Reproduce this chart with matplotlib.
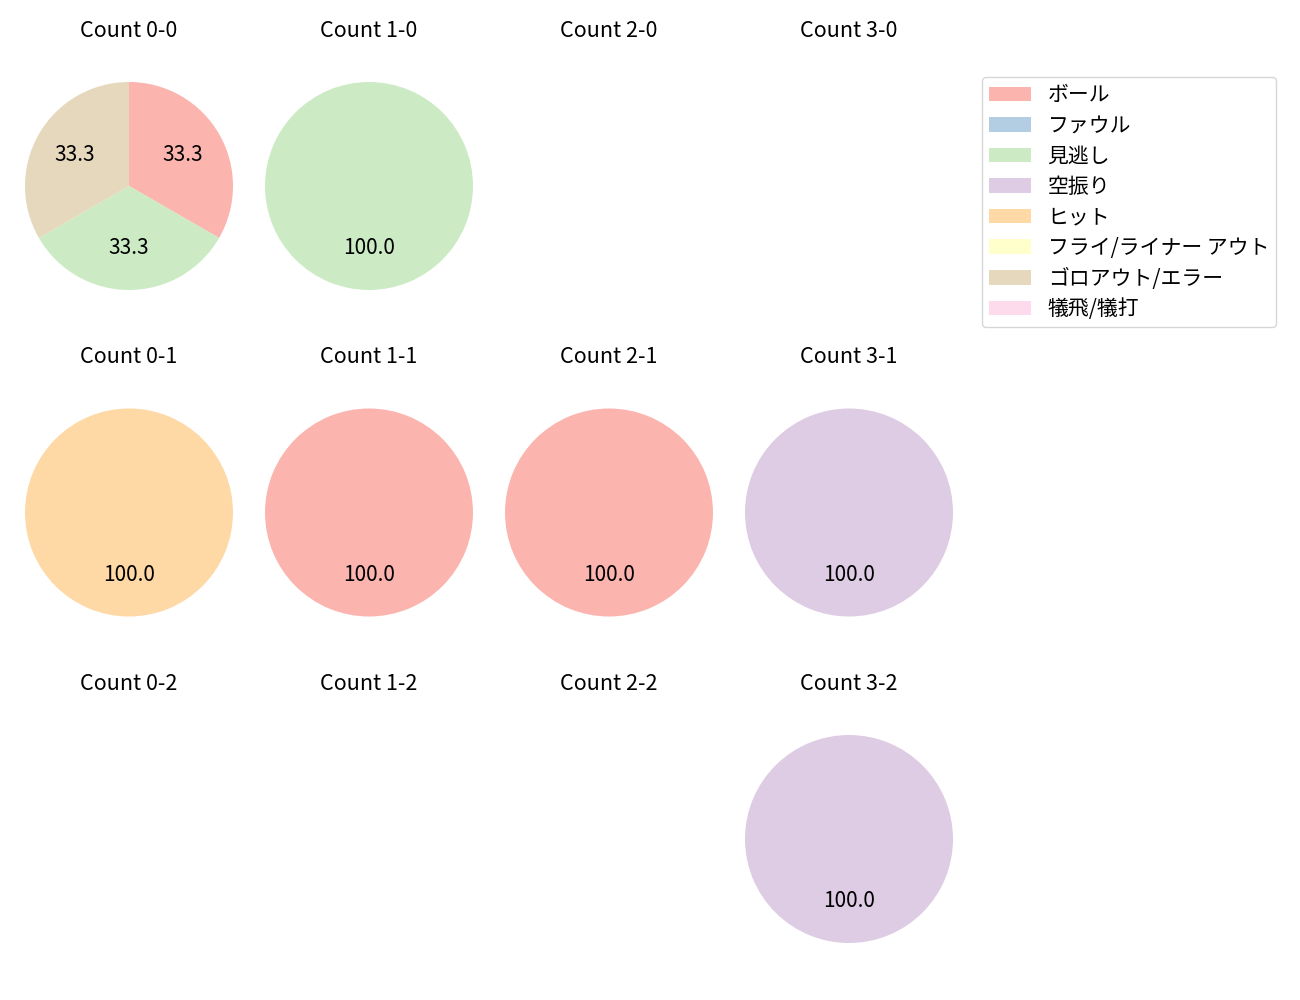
import numpy as np
import matplotlib
matplotlib.use("Agg")
import matplotlib.pyplot as plt
from matplotlib.patches import Patch

plt.rcParams['font.family'] = ['Noto Sans CJK JP', 'DejaVu Sans']
plt.rcParams['font.size'] = 15

#------------------------------------------#
# Data
categories = ['ボール', 'ファウル', '見逃し', '空振り', 'ヒット',
              'フライ/ライナー アウト', 'ゴロアウト/エラー', '犠飛/犠打']
colors = ['#fbb4ae', '#b3cde3', '#ccebc5', '#decbe4', '#fed9a6',
          '#ffffcc', '#e5d8bd', '#fddaec']

balls = [0, 1, 2, 3]
strikes = [0, 1, 2]

# counts per category, key = (balls, strikes)
count_0_0 = [1, 0, 1, 0, 0, 0, 1, 0]
count_1_0 = [0, 0, 1, 0, 0, 0, 0, 0]
count_2_0 = [0, 0, 0, 0, 0, 0, 0, 0]
count_3_0 = [0, 0, 0, 0, 0, 0, 0, 0]
count_0_1 = [0, 0, 0, 0, 1, 0, 0, 0]
count_1_1 = [1, 0, 0, 0, 0, 0, 0, 0]
count_2_1 = [1, 0, 0, 0, 0, 0, 0, 0]
count_3_1 = [0, 0, 0, 1, 0, 0, 0, 0]
count_0_2 = [0, 0, 0, 0, 0, 0, 0, 0]
count_1_2 = [0, 0, 0, 0, 0, 0, 0, 0]
count_2_2 = [0, 0, 0, 0, 0, 0, 0, 0]
count_3_2 = [0, 0, 0, 1, 0, 0, 0, 0]

data = {
    (0, 0): count_0_0, (1, 0): count_1_0, (2, 0): count_2_0, (3, 0): count_3_0,
    (0, 1): count_0_1, (1, 1): count_1_1, (2, 1): count_2_1, (3, 1): count_3_1,
    (0, 2): count_0_2, (1, 2): count_1_2, (2, 2): count_2_2, (3, 2): count_3_2,
}

#------------------------------------------#
# Plot
W, H = 1300, 1000
fig = plt.figure(figsize=(13, 10), dpi=100)

side = 260  # px, axes box
for s in strikes:
    for b in balls:
        cx = 129 + 240 * b
        cy = 186 + 326.5 * s
        ax = fig.add_axes([(cx - side / 2) / W, 1 - (cy + side / 2) / H, side / W, side / H])
        vals = np.array(data[(b, s)], dtype=float)
        mask = vals > 0
        if mask.any():
            ax.pie(vals[mask], colors=[c for c, m in zip(colors, mask) if m],
                   autopct='%.1f', startangle=90, counterclock=False)
        else:
            ax.set_xlim(-1.25, 1.25)
            ax.set_ylim(-1.25, 1.25)
            ax.set_aspect('equal')
        ax.axis('off')
        ax.set_title(f'Count {b}-{s}', fontsize=15.5, pad=14)

handles = [Patch(facecolor=c, label=l) for c, l in zip(colors, categories)]
fig.legend(handles=handles, loc='upper left', bbox_to_anchor=(982 / W, 1 - 77 / H),
           borderaxespad=0, labelspacing=0.41, borderpad=0.35)

plt.savefig('out.png', dpi=100)
